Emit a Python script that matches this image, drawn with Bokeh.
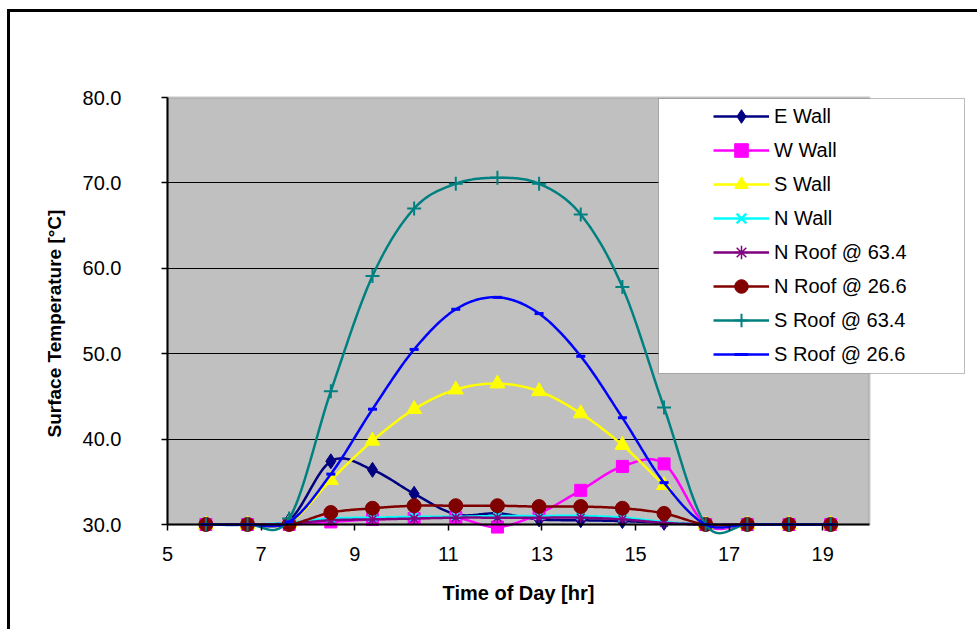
import numpy as np
from bokeh.plotting import figure
from bokeh.models import (FixedTicker, PrintfTickFormatter, Legend, LegendItem, BoxAnnotation,
                          Label, Title)
from bokeh.embed import file_html
from bokeh.resources import INLINE

# ---------------- data ----------------
hours = [5.82, 6.71, 7.60, 8.49, 9.38, 10.27, 11.16, 12.05,
         12.94, 13.83, 14.72, 15.61, 16.50, 17.39, 18.28, 19.17]

e_wall = [30.0, 30.0, 30.5, 37.4, 36.4, 33.6, 31.2, 31.3,
          30.6, 30.5, 30.4, 30.2, 30.0, 30.0, 30.0, 30.0]
w_wall = [30.0, 30.0, 30.0, 30.3, 30.6, 30.7, 30.8, 29.7,
          31.3, 34.0, 36.8, 37.1, 30.0, 30.0, 30.0, 30.0]
s_wall = [30.0, 30.0, 30.2, 35.2, 39.8, 43.5, 45.8, 46.5,
          45.6, 43.0, 39.3, 34.6, 30.0, 30.0, 30.0, 30.0]
n_wall = [30.0, 30.0, 30.2, 30.7, 30.8, 30.9, 30.9, 31.0,
          31.0, 31.0, 30.8, 30.3, 30.0, 30.0, 30.0, 30.0]
n_roof_634 = [30.0, 30.0, 30.1, 30.5, 30.6, 30.7, 30.8, 30.8,
              30.8, 30.8, 30.6, 30.2, 30.0, 30.0, 30.0, 30.0]
n_roof_266 = [30.0, 30.0, 30.0, 31.4, 31.9, 32.2, 32.2, 32.2,
              32.1, 32.1, 31.9, 31.3, 30.0, 30.0, 30.0, 30.0]
s_roof_634 = [30.0, 30.0, 30.7, 45.6, 59.1, 67.0, 69.9, 70.6,
              69.9, 66.3, 57.8, 43.7, 30.0, 30.0, 30.0, 30.0]
s_roof_266 = [30.0, 30.0, 30.3, 35.9, 43.5, 50.5, 55.2, 56.6,
              54.7, 49.7, 42.5, 34.9, 30.0, 30.0, 30.0, 30.0]

series_names = ["E Wall", "W Wall", "S Wall", "N Wall",
                "N Roof @ 63.4", "N Roof @ 26.6", "S Roof @ 63.4", "S Roof @ 26.6"]
series_values = [e_wall, w_wall, s_wall, n_wall, n_roof_634, n_roof_266, s_roof_634, s_roof_266]

x_ticks = [5, 7, 9, 11, 13, 15, 17, 19]
y_ticks = [30, 40, 50, 60, 70, 80]
y_grid_ticks = [40, 50, 60, 70]
x_axis_min, x_axis_max = 5, 20
y_axis_min, y_axis_max = 30, 80

x_label = "Time of Day [hr]"
y_label = "Surface Temperature [°C]"

# ---------------- styles ----------------
styles = [
    dict(color="#000080", marker="diamond", size=15, lw=1),
    dict(color="#FF00FF", marker="square", size=12, lw=1),
    dict(color="#FFFF00", marker="triangle", size=15, lw=1),
    dict(color="#00FFFF", marker="x", size=11, lw=2.5),
    dict(color="#800080", marker="asterisk", size=11, lw=1.5),
    dict(color="#800000", marker="circle", size=14, lw=1),
    dict(color="#008080", marker="cross", size=14, lw=2),
    dict(color="#0000FF", marker="dash", size=9, lw=3),
]

FONT = "Liberation Sans"

# page geometry (pixels)
W, H = 980, 632
OFF_X, OFF_Y = 10, 12            # canvas origin inside the page (outer chart border sits left/above)
PLOT_L, PLOT_R, PLOT_T, PLOT_B = 167, 869, 97, 524
# the drawing frame is larger than the grey plot area so the legend box, the tick labels
# and the markers on the 30 degree line are not clipped
FRAME_L, FRAME_R, FRAME_T, FRAME_B = 70, 972, 70, 632
PX_PER_HR = (PLOT_R - PLOT_L) / (x_axis_max - x_axis_min)
PX_PER_DEG = (PLOT_B - PLOT_T) / (y_axis_max - y_axis_min)
x_frame_start = x_axis_min - (PLOT_L - FRAME_L) / PX_PER_HR
x_frame_end = x_axis_max + (FRAME_R - PLOT_R) / PX_PER_HR
y_frame_start = y_axis_min - (FRAME_B - PLOT_B) / PX_PER_DEG
y_frame_end = y_axis_max + (PLOT_T - FRAME_T) / PX_PER_DEG


def smooth_path(xs, ys, n=24):
    """Excel-style smoothed line: cubic Bezier between points, control points from neighbours."""
    xs = np.asarray(xs, float)
    ys = np.asarray(ys, float)
    px = np.concatenate([[xs[0]], xs, [xs[-1]]])
    py = np.concatenate([[ys[0]], ys, [ys[-1]]])
    t = np.linspace(0, 1, n + 1)[1:]
    ox, oy = [xs[0]], [ys[0]]
    for i in range(len(xs) - 1):
        p0 = np.array([px[i], py[i]])
        p1 = np.array([xs[i], ys[i]])
        p2 = np.array([xs[i + 1], ys[i + 1]])
        p3 = np.array([px[i + 3], py[i + 3]])
        c1 = p1 + (p2 - p0) / 6.0
        c2 = p2 - (p3 - p1) / 6.0
        b = ((1 - t) ** 3)[:, None] * p1 + (3 * (1 - t) ** 2 * t)[:, None] * c1 \
            + (3 * (1 - t) * t ** 2)[:, None] * c2 + (t ** 3)[:, None] * p2
        ox.extend(b[:, 0])
        oy.extend(b[:, 1])
    return ox, oy


p = figure(width=W - OFF_X, height=H - OFF_Y,
           min_border_left=FRAME_L - OFF_X, min_border_right=W - FRAME_R,
           min_border_top=FRAME_T - OFF_Y, min_border_bottom=H - FRAME_B,
           x_range=(x_frame_start, x_frame_end), y_range=(y_frame_start, y_frame_end),
           output_backend="svg", toolbar_location=None,
           margin=(OFF_Y - 3, 0, 0, OFF_X - 3),
           styles={"border-left": "3px solid black", "border-top": "3px solid black"})

p.background_fill_color = "white"
p.border_fill_color = "white"
p.outline_line_color = None

# grey plot area with its border
plot_area = BoxAnnotation(left=x_axis_min, right=x_axis_max, bottom=y_axis_min, top=y_axis_max,
                          fill_color="#C0C0C0", fill_alpha=1.0,
                          line_color="#808080", line_width=2.5, level="image")
p.add_layout(plot_area)

# axes
p.xaxis.ticker = FixedTicker(ticks=x_ticks)
p.yaxis.ticker = FixedTicker(ticks=y_ticks)
p.yaxis.formatter = PrintfTickFormatter(format="%.1f")
p.xaxis.bounds = (x_axis_min, x_axis_max)
p.yaxis.bounds = (y_axis_min, y_axis_max)
p.xaxis.fixed_location = y_axis_min
p.yaxis.fixed_location = x_axis_min
for ax in (p.xaxis[0], p.yaxis[0]):
    ax.axis_line_color = "black"
    ax.axis_line_width = 2
    ax.major_tick_line_color = "black"
    ax.major_tick_line_width = 1.5
    ax.major_tick_out = 6
    ax.major_tick_in = 0
    ax.minor_tick_line_color = None
    ax.major_label_text_font = FONT
    ax.major_label_text_font_size = "20px"
    ax.major_label_text_color = "black"
p.yaxis.major_label_standoff = 40
p.xaxis.major_label_standoff = 16

# axis titles
x_title = Label(x=(x_axis_min + x_axis_max) / 2, y=FRAME_B - 592, y_units="screen",
                text=x_label, text_align="center", text_baseline="middle",
                text_font=FONT, text_font_size="20px", text_font_style="bold", text_color="black")
p.add_layout(x_title)

y_title = Title(text=y_label, align="left", offset=FRAME_B - 437, standoff=12,
                text_font=FONT, text_font_size="19px", text_font_style="bold", text_color="black")
p.add_layout(y_title, "left")

p.xgrid.visible = False
p.ygrid.ticker = FixedTicker(ticks=y_grid_ticks)
p.ygrid.cross_bounds = (x_axis_min, x_axis_max)
p.ygrid.grid_line_color = "black"
p.ygrid.grid_line_width = 1

items = []
for name, vals, st in zip(series_names, series_values, styles):
    sx, sy = smooth_path(hours, vals)
    lr = p.line(sx, sy, line_color=st["color"], line_width=2.5)
    fill = st["color"] if st["marker"] in ("diamond", "square", "triangle", "circle") else None
    sr = p.scatter(hours, vals, marker=st["marker"], size=st["size"],
                   line_color=st["color"], fill_color=fill, line_width=st["lw"])
    items.append(LegendItem(label=name, renderers=[lr, sr]))

# legend box (white frame) and the legend itself (screen units relative to frame bottom-left)
legend_box = BoxAnnotation(left=658 - FRAME_L, right=964 - FRAME_L, top=FRAME_B - 98, bottom=FRAME_B - 373,
                           left_units="screen", right_units="screen",
                           top_units="screen", bottom_units="screen",
                           fill_color="white", fill_alpha=1.0,
                           line_color="#202020", line_width=1, level="annotation")
p.add_layout(legend_box)

legend = Legend(items=items, location=(713 - FRAME_L, FRAME_B - 371),
                glyph_width=56, glyph_height=34, label_height=34, spacing=0,
                padding=0, margin=0, label_standoff=5,
                label_text_font=FONT, label_text_font_size="20px", label_text_color="black",
                border_line_alpha=0, background_fill_alpha=0)
p.add_layout(legend, "center")

open("out.html", "w").write(file_html(p, INLINE))
